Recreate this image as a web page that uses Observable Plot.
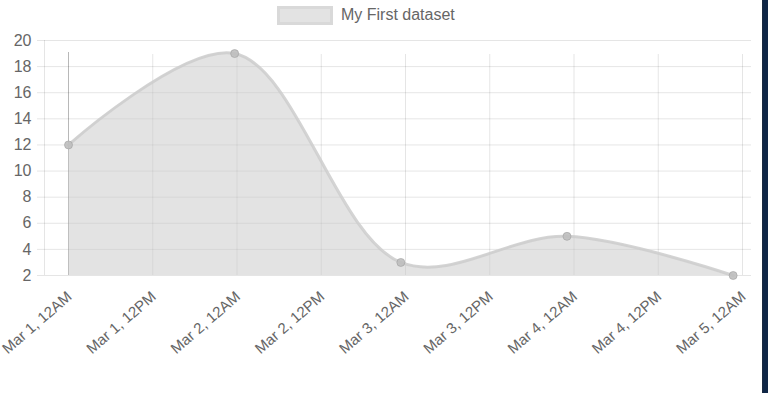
<!DOCTYPE html>
<html>
<head>
<meta charset="utf-8">
<script src="https://cdn.jsdelivr.net/npm/d3@7"></script>
<script src="https://cdn.jsdelivr.net/npm/@observablehq/plot@0.6"></script>
<style>
  html, body { margin: 0; padding: 0; background: #fff; width: 768px; height: 393px; overflow: hidden; }
  body { font-family: "Liberation Sans", Arial, sans-serif; position: relative; }
  #legend { height: 30px; display: flex; align-items: center; justify-content: flex-start; gap: 8px; color: #666; font-size: 16px; padding-left: 277px; box-sizing: border-box; }
  #legend .box { width: 50px; height: 13px; background: #e3e3e3; border: 3px solid #d9d9d9; }
  #side { position: absolute; top: 0; right: 0; width: 5px; height: 393px; background: #0f2646; border-left: 1px solid #1a2a40; }
  svg { display: block; }
</style>
</head>
<body>
<div id="legend"><span class="box"></span><span>My First dataset</span></div>
<div id="chart"></div>
<div id="side"></div>
<script>
const seriesLabel = "My First dataset";
// point times (points sit slightly before midnight)
const times = ["2024-03-01T00:00", "2024-03-01T23:40", "2024-03-02T23:20", "2024-03-03T23:00", "2024-03-04T22:40"];
const values = [12, 19, 3, 5, 2];
const tickTimes = ["2024-03-01T00:00", "2024-03-01T12:00", "2024-03-02T00:00", "2024-03-02T12:00", "2024-03-03T00:00", "2024-03-03T12:00", "2024-03-04T00:00", "2024-03-04T12:00", "2024-03-05T00:00"];
const yTicks = [2, 4, 6, 8, 10, 12, 14, 16, 18, 20];

const data = times.map((t, i) => ({date: new Date(t), value: values[i]}));
const ticks = tickTimes.map(t => new Date(t));
const H = 3600 * 1000;
const x0 = new Date(ticks[0] - 3.42 * H);
const x1 = new Date(+ticks[8] + 1.28 * H);
const fmt = d => {
  const m = d3.timeFormat("%b %-d")(d);
  const h = d.getHours();
  const hh = h % 12 === 0 ? 12 : h % 12;
  return `${m}, ${hh}${h < 12 ? "AM" : "PM"}`;
};

const chart = Plot.plot({
  width: 768,
  height: 363,
  marginLeft: 44,
  marginRight: 17,
  marginTop: 10,
  marginBottom: 118,
  style: {fontFamily: "Liberation Sans, Arial, sans-serif", fontSize: "15px", color: "#666", background: "transparent", overflow: "visible"},
  x: {type: "time", domain: [x0, x1], axis: null},
  y: {domain: [2, 20], axis: null},
  marks: [
    // horizontal gridlines
    Plot.ruleY(yTicks, {stroke: "rgba(0,0,0,0.1)", strokeWidth: 1, insetLeft: -7}),
    // left axis line
    Plot.ruleX([x0], {y1: 2, y2: 20, stroke: "rgba(0,0,0,0.1)"}),
    // vertical gridlines + tick marks
    Plot.ruleX(ticks.slice(1), {y1: 2, y2: 20, stroke: "rgba(0,0,0,0.1)", insetBottom: -14}),
    Plot.ruleX(ticks.slice(0, 1), {y1: 2, y2: 20, stroke: "rgba(0,0,0,0.28)", insetBottom: -12}),
    Plot.areaY(data, {x: "date", y1: 2, y2: "value", curve: "catmull-rom", fill: "rgba(200,200,200,0.5)"}),
    Plot.lineY(data, {x: "date", y: "value", curve: "catmull-rom", stroke: "rgba(205,205,205,0.85)", strokeWidth: 3}),
    Plot.dot(data, {x: "date", y: "value", r: 4, fill: "rgba(190,190,190,0.9)", stroke: "rgba(160,160,160,0.6)", strokeWidth: 1}),
    // y tick labels
    Plot.text(yTicks, {y: d => d, text: d => String(d), frameAnchor: "left", textAnchor: "end", dx: -13, fill: "#666", fontSize: 16}),
    // x tick labels (rotated)
    Plot.text(ticks, {x: d => d, y: 2, text: fmt, rotate: -41, textAnchor: "end", dx: 1, dy: 19, fill: "#666", fontSize: 15})
  ]
});
document.getElementById("chart").append(chart);
</script>
</body>
</html>
